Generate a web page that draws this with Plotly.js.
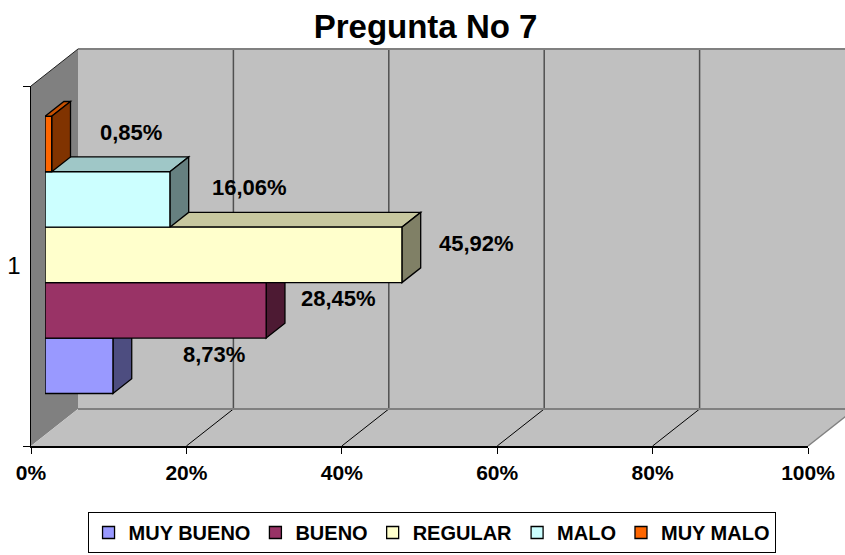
<!DOCTYPE html>
<html><head><meta charset="utf-8">
<script src="https://cdn.plot.ly/plotly-3.0.1.min.js"></script>
<style>html,body{margin:0;padding:0;background:#fff;} #chart{width:845px;height:555px;}</style>
</head><body><div id="chart"></div>
<script>
// ---- data ----
const categories = ['1'];
const seriesNames = ['MUY BUENO', 'BUENO', 'REGULAR', 'MALO', 'MUY MALO'];
const seriesValues = [8.73, 28.45, 45.92, 16.06, 0.85];
const tickValues = [0, 20, 40, 60, 80, 100];
const tickLabels = ['0%', '20%', '40%', '60%', '80%', '100%'];

// ---- styles ----
const seriesColors = ['#9999FF', '#993366', '#FFFFCC', '#CCFFFF', '#FF6600'];
const labelShiftX = [101, 72, 75, 80, 79];
const FONT = 'Liberation Sans, Arial, sans-serif';
const W = 845, H = 555;
// 3D frame geometry (pixels)
const F0 = 31, FL = 777, FB = 446, FT = 86, DX = 47, DY = 37;
const FRONT_FRAC = 0.3, BAR_FRAC = 0.4, BARGAP = 0.23;
const px = x => x / W, py = y => 1 - y / H;

function shade(hex, f) {
  const n = parseInt(hex.slice(1), 16);
  const r = Math.round(((n >> 16) & 255) * f), g = Math.round(((n >> 8) & 255) * f), b = Math.round((n & 255) * f);
  return 'rgb(' + r + ',' + g + ',' + b + ')';
}

// axes domains
const xDom = [px(F0 + FRONT_FRAC * DX), px(F0 + FL + FRONT_FRAC * DX)];
const yDom = [py(FB - FRONT_FRAC * DY), py(FT - FRONT_FRAC * DY)];
const x2Dom = [px(F0), px(F0 + FL)];
const y2Dom = [py(FB), py(FT)];

const xRange = [0, 100], yRange = [-0.5, 0.5];
// depth of bars in data units
const dxB = BAR_FRAC * DX * (xRange[1] - xRange[0]) / FL;
const dyB = BAR_FRAC * DY * (yRange[1] - yRange[0]) / (FB - FT);

const n = seriesNames.length;
const gw = 1 - BARGAP, bw = gw / n;

const traces = seriesNames.map((name, i) => ({
  type: 'bar', orientation: 'h', name: name,
  x: [seriesValues[i]], y: categories,
  marker: { color: seriesColors[i], line: { color: '#000', width: 1.3 } },
  xaxis: 'x', yaxis: 'y', hoverinfo: 'skip'
}));
traces.push({ type: 'scatter', mode: 'none', x: [null], y: categories, xaxis: 'x2', yaxis: 'y2', showlegend: false, hoverinfo: 'skip' });

const shapes = [];
const poly = (pts, fill, lineColor, lw) => ({
  type: 'path', xref: 'paper', yref: 'paper', layer: 'below',
  path: 'M' + pts.map(p => px(p[0]) + ',' + py(p[1])).join(' L') + ' Z',
  fillcolor: fill, line: { color: lineColor || fill, width: lw || 0 }
});
const seg = (a, b, color, w) => ({
  type: 'line', xref: 'paper', yref: 'paper', layer: 'below',
  x0: px(a[0]), y0: py(a[1]), x1: px(b[0]), y1: py(b[1]), line: { color: color, width: w }
});
// back wall, left wall, floor
shapes.push(poly([[F0 + DX, FT - DY], [F0 + FL + DX, FT - DY], [F0 + FL + DX, FB - DY], [F0 + DX, FB - DY]], '#C0C0C0'));
shapes.push(poly([[F0, FT], [F0 + DX, FT - DY], [F0 + DX, FB - DY], [F0, FB]], '#808080'));
shapes.push(poly([[F0, FB], [F0 + FL, FB], [F0 + FL + DX, FB - DY], [F0 + DX, FB - DY]], '#C0C0C0'));
// back wall gridlines & floor diagonals
tickValues.forEach(v => {
  if (v === 0) return;
  const fx = F0 + v / 100 * FL, bx = fx + DX;
  if (v < 100) {
    shapes.push(seg([bx, FT - DY], [bx, FB - DY], '#505050', 1.5));
    shapes.push(seg([fx, FB], [bx, FB - DY], '#000', 1));
  }
});
shapes.push(seg([F0 + DX, FT - DY], [F0 + FL + DX, FT - DY], '#808080', 2));
shapes.push(seg([F0 + DX, FB - DY], [F0 + FL + DX, FB - DY], '#808080', 2));
shapes.push(seg([F0, FT], [F0 + DX, FT - DY], '#202020', 1));
shapes.push(seg([F0 + FL, FB], [F0 + FL + DX, FB - DY], '#808080', 1.5));

// bar 3D faces (data coords)
seriesValues.forEach((v, i) => {
  const y0 = -gw / 2 + bw * i, y1 = y0 + bw;
  shapes.push({
    type: 'path', xref: 'x', yref: 'y', layer: 'below',
    path: `M0,${y1} L${v},${y1} L${v + dxB},${y1 + dyB} L${dxB},${y1 + dyB} Z`,
    fillcolor: shade(seriesColors[i], 0.78), line: { color: '#000', width: 1.3 }
  });
  shapes.push({
    type: 'path', xref: 'x', yref: 'y', layer: 'below',
    path: `M${v},${y0} L${v + dxB},${y0 + dyB} L${v + dxB},${y1 + dyB} L${v},${y1} Z`,
    fillcolor: shade(seriesColors[i], 0.5), line: { color: '#000', width: 1.3 }
  });
});

const annotations = seriesValues.map((v, i) => ({
  xref: 'x', yref: 'y', x: v, y: -gw / 2 + bw * (i + 0.5),
  text: v.toFixed(2).replace('.', ',') + '%', showarrow: false,
  xshift: labelShiftX[i], yshift: 11.5, xanchor: 'center', yanchor: 'middle',
  font: { family: FONT, size: 22, weight: 700, color: '#000' }
}));

const layout = {
  width: W, height: H, margin: { l: 0, r: 0, t: 0, b: 0, pad: 0 },
  paper_bgcolor: '#fff', plot_bgcolor: 'rgba(0,0,0,0)',
  barmode: 'group', bargap: BARGAP, bargroupgap: 0,
  title: { text: 'Pregunta No 7', x: 0.5036, xanchor: 'center', y: py(26), yanchor: 'middle',
    font: { family: FONT, size: 33, weight: 700, color: '#000' } },
  xaxis: { domain: xDom, range: xRange, visible: false, fixedrange: true },
  yaxis: { domain: yDom, range: yRange, type: 'category', visible: false, fixedrange: true },
  xaxis2: { domain: x2Dom, range: xRange, anchor: 'y2', tickvals: tickValues, ticktext: tickLabels,
    ticks: 'outside', ticklen: 6, tickcolor: '#000', tickwidth: 1, showline: true, linecolor: '#000', linewidth: 1.5,
    showgrid: false, zeroline: false, ticklabelstandoff: 1,
    tickfont: { family: FONT, size: 21, weight: 700, color: '#000' }, fixedrange: true },
  yaxis2: { domain: y2Dom, range: yRange, type: 'category', anchor: 'x2', tickson: 'boundaries',
    ticks: 'outside', ticklen: 7, tickcolor: '#000', showline: true, linecolor: '#000', linewidth: 1.5,
    showgrid: false, zeroline: false, ticklabelstandoff: 4,
    tickfont: { family: FONT, size: 24, color: '#000' }, fixedrange: true },
  legend: { orientation: 'h', x: 0.5107, xanchor: 'center', y: py(553), yanchor: 'bottom',
    bordercolor: '#000', borderwidth: 1, bgcolor: '#fff', traceorder: 'normal',
    font: { family: FONT, size: 20, weight: 700, color: '#000' } },
  shapes: shapes, annotations: annotations, showlegend: true
};

Plotly.newPlot('chart', traces, layout, { staticPlot: true, displayModeBar: false });
</script></body></html>
